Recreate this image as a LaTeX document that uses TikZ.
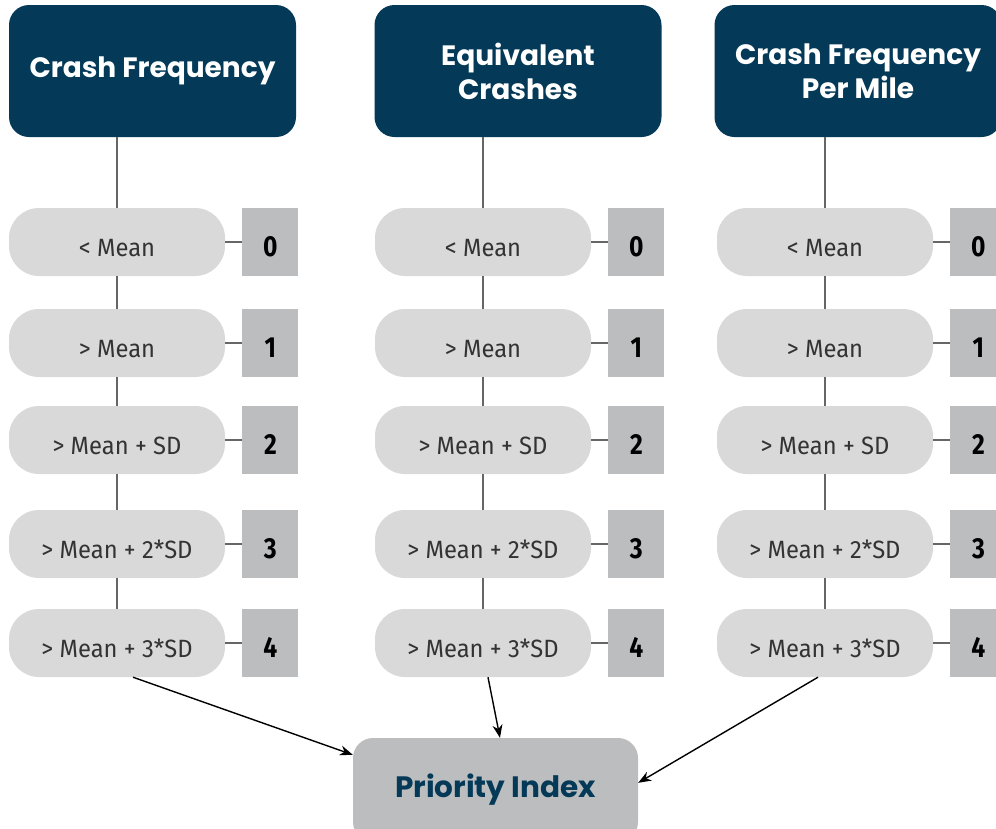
\documentclass[tikz,border=0pt]{standalone}
\usepackage{fontspec}
\setmainfont{Fira Sans}
\newfontfamily\headfont{Poppins}
\newfontfamily\pillfont{Fira Sans}[FakeStretch=0.95]
\newfontfamily\scorefont{Fira Sans}[FakeStretch=0.85]
\usetikzlibrary{positioning,arrows.meta}
\definecolor{headblue}{HTML}{043A57}
\definecolor{pillgrey}{HTML}{D9D9D9}
\definecolor{scoregrey}{HTML}{BCBDBF}
\definecolor{linegrey}{HTML}{666666}
\tikzset{
  head/.style={fill=headblue, rounded corners=20pt, minimum width=287pt,
    minimum height=132pt, align=center, text=white, font=\headfont\bfseries\fontsize{28}{34}\selectfont},
  pill/.style={fill=pillgrey, rounded corners=30pt, minimum width=216pt,
    minimum height=68pt, text height=29pt, text depth=0pt, inner sep=0pt,
    text=black!80, font=\pillfont\fontsize{25}{28}\selectfont},
  score/.style={fill=scoregrey, minimum width=56pt, minimum height=68pt,
    text height=29pt, text depth=0pt, inner sep=0pt,
    font=\scorefont\bfseries\fontsize{29}{30}\selectfont},
  link/.style={draw=linegrey, line width=1.5pt},
}
\begin{document}
\begin{tikzpicture}[x=1pt, y=-1pt]
  \useasboundingbox (0,0) rectangle (996,828);
  \node[head] (h1) at (152.5,71) {Crash Frequency};
  \node[head] (h2) at (518,71) {Equivalent\\Crashes};
  \node[head] (h3) at (858,71) {Crash Frequency\\Per Mile};
  \foreach \c/\x in {1/117, 2/483, 3/825} {
    \foreach \r/\y/\t in {0/242/{< Mean}, 1/343/{> Mean}, 2/440/{> Mean + SD},
                          3/544/{> Mean + 2*SD}, 4/643/{> Mean + 3*SD}} {
      \node[pill] (p\c\r) at (\x,\y) {\t};
      \node[score, right=17pt of p\c\r] (s\c\r) {\r};
      \draw[link] (p\c\r) -- (s\c\r);
    }
    \draw[link] (p\c0.north) -- (p\c0.north |- h\c.south);
    \draw[link] (p\c0) -- (p\c1);
    \draw[link] (p\c1) -- (p\c2);
    \draw[link] (p\c2) -- (p\c3);
    \draw[link] (p\c3) -- (p\c4);
  }
  \node[fill=scoregrey, rounded corners=20pt, minimum width=285pt, minimum height=104pt,
    text=headblue, font=\headfont\bfseries\fontsize{29.5}{32}\selectfont] (pi) at (495.5,790) {Priority Index};
  \draw[-{Stealth[length=13pt,width=10pt]}, line width=1.4pt] ([xshift=16pt]p14.south) -- ([yshift=-17pt]pi.north west);
  \draw[-{Stealth[length=13pt,width=10pt]}, line width=1.4pt] ([xshift=5pt]p24.south) -- ([xshift=4.5pt]pi.north);
  \draw[-{Stealth[length=13pt,width=10pt]}, line width=1.4pt] ([xshift=-7pt]p34.south) -- ([yshift=-45pt]pi.north east);
\end{tikzpicture}
\end{document}
